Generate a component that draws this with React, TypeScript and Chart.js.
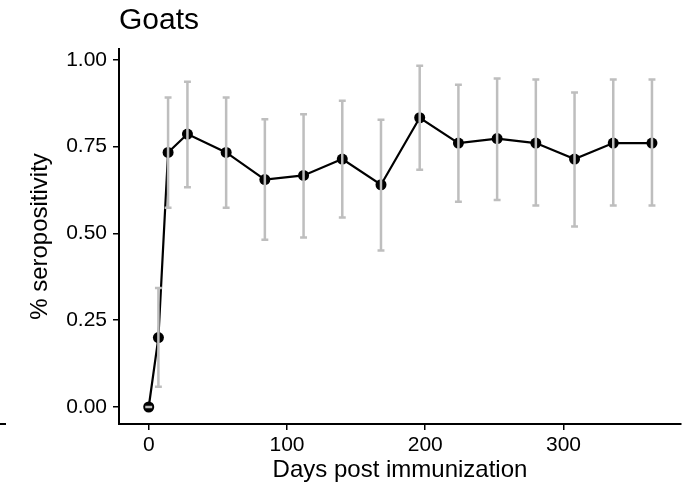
import React, { useEffect, useRef } from "react";
import { Chart, registerables } from "chart.js";

Chart.register(...registerables);

const days = [0, 7, 14, 28, 56, 84, 112, 140, 168, 196, 224, 252, 280, 308, 336, 364];
const seropositivity = [0, 0.2, 0.733, 0.786, 0.733, 0.655, 0.667, 0.714, 0.64, 0.833, 0.76, 0.773, 0.76, 0.714, 0.76, 0.76];
const lowerCI = [0, 0.058, 0.574, 0.633, 0.574, 0.482, 0.488, 0.546, 0.451, 0.683, 0.591, 0.596, 0.58, 0.52, 0.58, 0.58];
const upperCI = [0, 0.343, 0.891, 0.937, 0.891, 0.829, 0.843, 0.882, 0.827, 0.983, 0.928, 0.946, 0.943, 0.906, 0.943, 0.943];
const xTicks = [0, 100, 200, 300];
const yTicks = [0, 0.25, 0.5, 0.75, 1.0];

const FONT = "'Liberation Sans', Arial, Helvetica, sans-serif";
const ERR_COLOR = "#BEBEBE";
const CAP_WIDTH_DAYS = 5;

const errorBarPlugin = {
  id: "errorBars",
  afterDatasetsDraw(chart: any) {
    const { ctx, scales } = chart;
    const xs = scales.x;
    const ys = scales.y;
    ctx.save();
    ctx.strokeStyle = ERR_COLOR;
    ctx.lineWidth = 2.5;
    ctx.lineCap = "butt";
    days.forEach((d, i) => {
      const x = xs.getPixelForValue(d);
      const xl = xs.getPixelForValue(d - CAP_WIDTH_DAYS / 2);
      const xr = xs.getPixelForValue(d + CAP_WIDTH_DAYS / 2);
      const yl = ys.getPixelForValue(lowerCI[i]);
      const yu = ys.getPixelForValue(upperCI[i]);
      ctx.beginPath();
      ctx.moveTo(x, yl);
      ctx.lineTo(x, yu);
      ctx.moveTo(xl, yl);
      ctx.lineTo(xr, yl);
      ctx.moveTo(xl, yu);
      ctx.lineTo(xr, yu);
      ctx.stroke();
    });
    ctx.restore();
  },
};

const strayLinePlugin = {
  id: "strayLine",
  afterDraw(chart: any) {
    const { ctx, chartArea } = chart;
    ctx.save();
    ctx.strokeStyle = "#000";
    ctx.lineWidth = 2;
    ctx.beginPath();
    ctx.moveTo(0, chartArea.bottom);
    ctx.lineTo(6, chartArea.bottom);
    ctx.stroke();
    ctx.restore();
  },
};

export default function App() {
  const canvasRef = useRef<HTMLCanvasElement>(null);

  useEffect(() => {
    if (!canvasRef.current) return;
    const chart = new Chart(canvasRef.current, {
      type: "line",
      data: {
        datasets: [
          {
            label: "Goats",
            data: days.map((d, i) => ({ x: d, y: seropositivity[i] })),
            borderColor: "#000",
            borderWidth: 2.2,
            backgroundColor: "#000",
            pointBackgroundColor: "#000",
            pointBorderWidth: 0,
            pointRadius: 5.5,
            tension: 0,
            fill: false,
          },
        ],
      },
      options: {
        responsive: false,
        animation: false,
        layout: { padding: { top: 0, right: 9, bottom: 0, left: 0 } },
        plugins: {
          legend: { display: false },
          tooltip: { enabled: false },
          title: {
            display: true,
            text: "Goats",
            align: "start",
            fullSize: false,
            color: "#000",
            font: { family: FONT, size: 30, weight: "normal" },
            padding: { top: 3, bottom: 10 },
          },
        },
        scales: {
          x: {
            type: "linear",
            min: -21.5,
            max: 385,
            afterBuildTicks: (scale: any) => {
              scale.ticks = xTicks.map((v) => ({ value: v }));
            },
            afterFit: (scale: any) => {
              scale.height = 65;
            },
            grid: {
              drawOnChartArea: false,
              drawTicks: true,
              tickLength: 6,
              tickColor: "#000",
              lineWidth: 1.5,
            },
            border: { display: true, color: "#000", width: 2 },
            ticks: {
              color: "#000",
              padding: 3,
              maxRotation: 0,
              font: { family: FONT, size: 21 },
            },
            title: {
              display: true,
              text: "Days post immunization",
              color: "#000",
              font: { family: FONT, size: 24 },
              padding: { top: 0, bottom: 4 },
            },
          },
          y: {
            type: "linear",
            min: -0.049,
            max: 1.031,
            afterBuildTicks: (scale: any) => {
              scale.ticks = yTicks.map((v) => ({ value: v }));
            },
            afterFit: (scale: any) => {
              scale.width = 119;
            },
            grid: {
              drawOnChartArea: false,
              drawTicks: true,
              tickLength: 6,
              tickColor: "#000",
              lineWidth: 1.5,
            },
            border: { display: true, color: "#000", width: 2 },
            ticks: {
              color: "#000",
              padding: 6,
              font: { family: FONT, size: 21 },
              callback: (v: any) => Number(v).toFixed(2),
            },
            title: {
              display: true,
              text: "% seropositivity",
              color: "#000",
              font: { family: FONT, size: 24 },
              padding: { top: 26, bottom: 0 },
            },
          },
        },
      },
      plugins: [errorBarPlugin, strayLinePlugin],
    });
    return () => chart.destroy();
  }, []);

  return (
    <div style={{ position: "fixed", left: 0, top: 0, width: 690, height: 489, background: "#fff" }}>
      <canvas ref={canvasRef} width={690} height={489} style={{ width: 690, height: 489, display: "block" }} />
    </div>
  );
}
